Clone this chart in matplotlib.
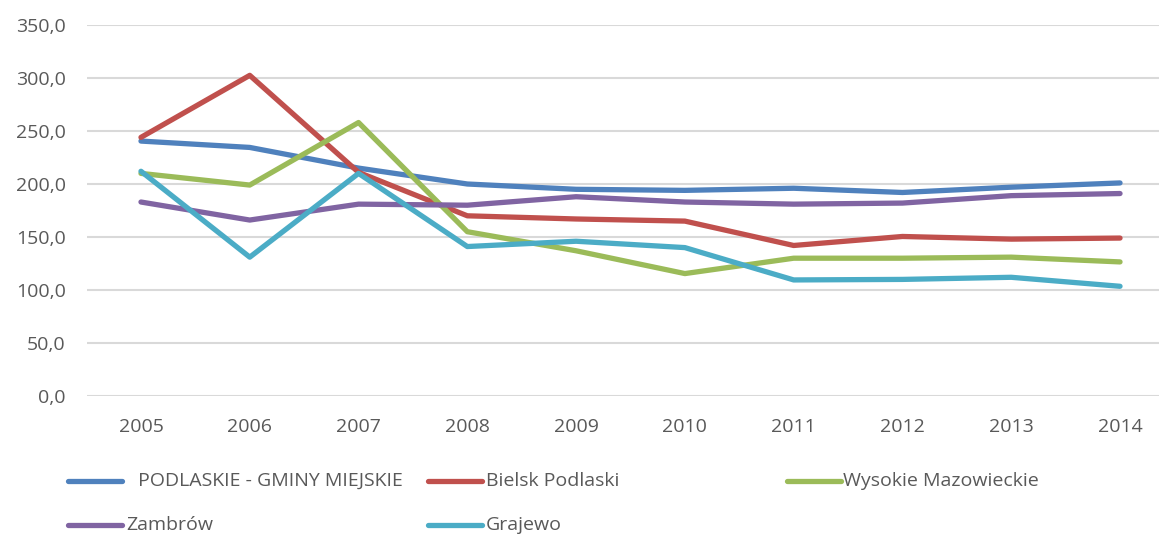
import matplotlib.pyplot as plt
from matplotlib.lines import Line2D

years = ['2005', '2006', '2007', '2008', '2009', '2010', '2011', '2012', '2013', '2014']
labels = [' PODLASKIE - GMINY MIEJSKIE', 'Bielsk Podlaski', 'Wysokie Mazowieckie', 'Zambrów', 'Grajewo']
podlaskie = [240.5, 234.5, 215.0, 200.0, 195.0, 194.0, 196.0, 192.0, 197.0, 201.0]
bielsk = [244.0, 302.5, 211.0, 170.0, 167.0, 165.0, 142.0, 150.5, 148.0, 149.0]
wysokie = [210.0, 199.0, 258.0, 155.0, 137.0, 115.5, 130.0, 130.0, 131.0, 126.5]
zambrow = [183.0, 166.0, 181.0, 180.0, 188.0, 183.0, 181.0, 182.0, 189.0, 191.0]
grajewo = [212.0, 131.0, 210.0, 141.0, 146.0, 140.0, 109.5, 110.0, 112.0, 103.5]
series = [podlaskie, bielsk, wysokie, zambrow, grajewo]
colors = ['#4F81BD', '#C0504D', '#9BBB59', '#8064A2', '#4BACC6']

plt.rcParams['font.family'] = ['Open Sans', 'DejaVu Sans']
text_color = '#595959'
fs = 14

fig = plt.figure(figsize=(11.59, 5.34), dpi=100)
ax = fig.add_axes([0.0747, 0.2584, 0.9386, 0.6948])

x = list(range(len(years)))
for vals, c in zip(series, colors):
    ax.plot(x, vals, color=c, lw=3.8, solid_capstyle='round', solid_joinstyle='round', zorder=3)

ax.set_xlim(-0.5, len(years) - 0.5)
ax.set_ylim(0, 350)
ax.set_yticks(range(0, 351, 50))
ax.set_yticklabels([f'{v},0' for v in range(0, 351, 50)])
ax.set_xticks(x)
ax.set_xticklabels(years)
ax.grid(axis='y', color='#D9D9D9', lw=1.5)
ax.set_axisbelow(True)
for s in ax.spines.values():
    s.set_visible(False)
ax.tick_params(length=0, labelsize=fs, colors=text_color)
ax.tick_params(axis='x', pad=16)
ax.tick_params(axis='y', pad=15)

# legend drawn by hand to match the layout
W, H = 1159, 534
pos = [(68, 481), (428, 481), (787, 481), (68, 525), (428, 525)]
text_gap = [11, 4, 2, 4, 4]
for (px, py), lab, c, g in zip(pos, labels, colors, text_gap):
    fig.add_artist(Line2D([px / W, (px + 54) / W], [1 - py / H, 1 - py / H],
                          color=c, lw=3.8, solid_capstyle='round'))
    fig.text((px + 54 + g) / W, 1 - py / H, lab, color=text_color, fontsize=fs,
             va='center', ha='left')

fig.savefig('out.png', dpi=100)
